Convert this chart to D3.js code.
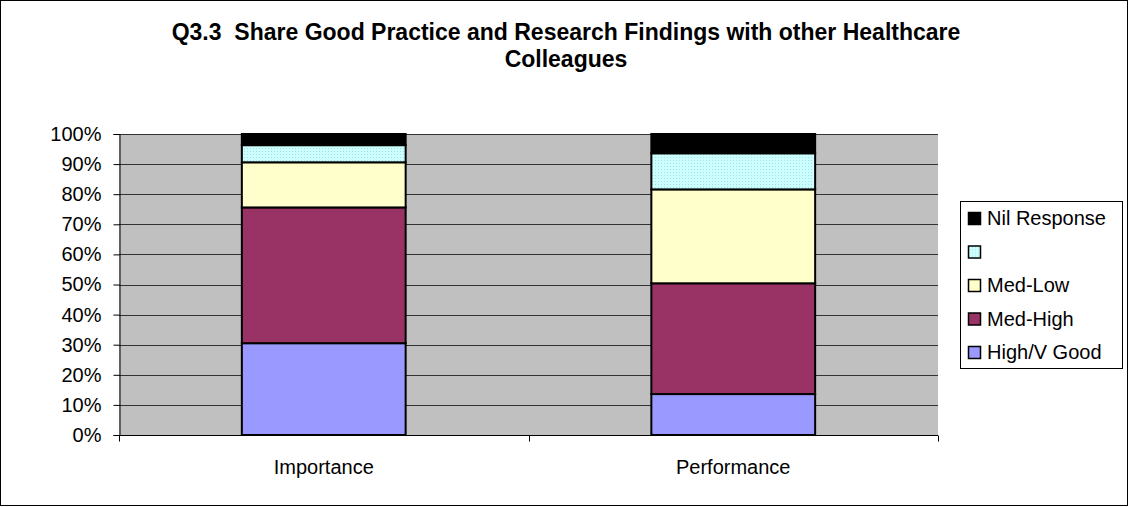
<!DOCTYPE html>
<html>
<head>
<meta charset="utf-8">
<script src="https://cdn.jsdelivr.net/npm/d3@7"></script>
<style>
  body { margin: 0; background: #fff; }
  svg { display: block; font-family: "Liberation Sans", Arial, sans-serif; }
</style>
</head>
<body>
<svg id="chart" width="1131" height="507"></svg>
<script>
// Data (percent of responses)
const categories = ['Importance', 'Performance'];
const seriesNames = ['High/V Good', 'Med-High', 'Med-Low', '', 'Nil Response'];
const highGood = [30.5, 13.6];
const medHigh = [45.1, 36.8];
const medLow = [15.0, 31.2];
const blank = [5.7, 12.0];
const nilResponse = [3.7, 6.4];
const yTicks = [0, 10, 20, 30, 40, 50, 60, 70, 80, 90, 100];

const seriesValues = [highGood, medHigh, medLow, blank, nilResponse];
const colors = ['#9999FF', '#993366', '#FFFFCC', 'url(#dots)', '#000000'];

const svg = d3.select('#chart');

// dotted light-cyan fill
const pat = svg.append('defs').append('pattern')
    .attr('id', 'dots')
    .attr('width', 3).attr('height', 3)
    .attr('patternUnits', 'userSpaceOnUse');
pat.append('rect').attr('width', 3).attr('height', 3).attr('fill', '#CCFFFF');
pat.append('rect').attr('x', 1).attr('y', 1).attr('width', 1).attr('height', 1).attr('fill', '#a8dede');

// outer border
svg.append('rect')
    .attr('x', 0.5).attr('y', 0.5)
    .attr('width', 1127).attr('height', 505)
    .attr('fill', '#fff').attr('stroke', '#000');

// title
const title = svg.append('text')
    .attr('text-anchor', 'middle')
    .attr('font-weight', 'bold')
    .attr('font-size', 23);
title.append('tspan').attr('x', 566).attr('y', 40)
    .text('Q3.3  Share Good Practice and Research Findings with other Healthcare')
    .style('white-space', 'pre');
title.append('tspan').attr('x', 566).attr('y', 67).text('Colleagues');

const margin = { left: 119, right: 938, top: 134, bottom: 435 };

const x = d3.scaleBand()
    .domain(categories)
    .range([margin.left, margin.right])
    .paddingInner(0.6)
    .paddingOuter(0.3);

const y = d3.scaleLinear()
    .domain([0, 100])
    .range([margin.bottom, margin.top]);

// plot area
svg.append('rect')
    .attr('x', margin.left).attr('y', margin.top)
    .attr('width', margin.right - margin.left)
    .attr('height', margin.bottom - margin.top)
    .attr('fill', '#C0C0C0');

// gridlines
svg.append('g')
    .selectAll('line')
    .data(yTicks.filter(d => d > 0))
    .join('line')
    .attr('x1', margin.left).attr('x2', margin.right)
    .attr('y1', d => Math.round(y(d)) + 0.5)
    .attr('y2', d => Math.round(y(d)) + 0.5)
    .attr('stroke', '#333');

// stacked bars
const stack = categories.map((c, i) => {
    let acc = 0;
    return seriesValues.map((vals, s) => {
        const seg = { cat: c, s: s, y0: acc, y1: acc + vals[i] };
        acc += vals[i];
        return seg;
    });
}).flat();

svg.append('g')
    .selectAll('rect')
    .data(stack)
    .join('rect')
    .attr('x', d => x(d.cat))
    .attr('width', x.bandwidth())
    .attr('y', d => y(d.y1))
    .attr('height', d => y(d.y0) - y(d.y1))
    .attr('fill', d => colors[d.s])
    .attr('stroke', '#000')
    .attr('stroke-width', 2);

// y axis
const yAxis = svg.append('g')
    .attr('transform', `translate(${margin.left + 0.5},0)`)
    .call(d3.axisLeft(y).tickValues(yTicks).tickFormat(d => d + '%').tickSize(6).tickPadding(12));
yAxis.selectAll('text').attr('font-size', 20).attr('fill', '#000').attr('font-family', null);
yAxis.select('.domain').attr('stroke', '#000');
yAxis.selectAll('.tick line').attr('stroke', '#000');

// x axis: ticks at band edges
const xa = svg.append('g').attr('transform', `translate(0,${margin.bottom + 0.5})`);
xa.append('line')
    .attr('x1', margin.left).attr('x2', margin.right)
    .attr('stroke', '#000');
const edges = [margin.left, (margin.left + margin.right) / 2, margin.right];
xa.selectAll('.edge')
    .data(edges)
    .join('line')
    .attr('x1', d => Math.round(d) + 0.5).attr('x2', d => Math.round(d) + 0.5)
    .attr('y1', 0).attr('y2', 6)
    .attr('stroke', '#000');
xa.selectAll('text')
    .data(categories)
    .join('text')
    .attr('x', d => x(d) + x.bandwidth() / 2)
    .attr('y', 38)
    .attr('text-anchor', 'middle')
    .attr('font-size', 20)
    .text(d => d);

// legend
const legend = svg.append('g');
legend.append('rect')
    .attr('x', 960.5).attr('y', 201.5)
    .attr('width', 162).attr('height', 167)
    .attr('fill', '#fff').attr('stroke', '#000');

const legendOrder = [4, 3, 2, 1, 0];
const rows = legend.selectAll('.row')
    .data(legendOrder)
    .join('g')
    .attr('transform', (d, i) => `translate(968,${218 + i * 33.5})`);
rows.append('rect')
    .attr('x', 0.5).attr('y', -5.5)
    .attr('width', 12).attr('height', 12)
    .attr('fill', d => colors[d])
    .attr('stroke', '#000')
    .attr('stroke-width', 1.5);
rows.append('text')
    .attr('x', 19)
    .attr('y', 7)
    .attr('font-size', 20)
    .text(d => seriesNames[d]);
</script>
</body>
</html>
